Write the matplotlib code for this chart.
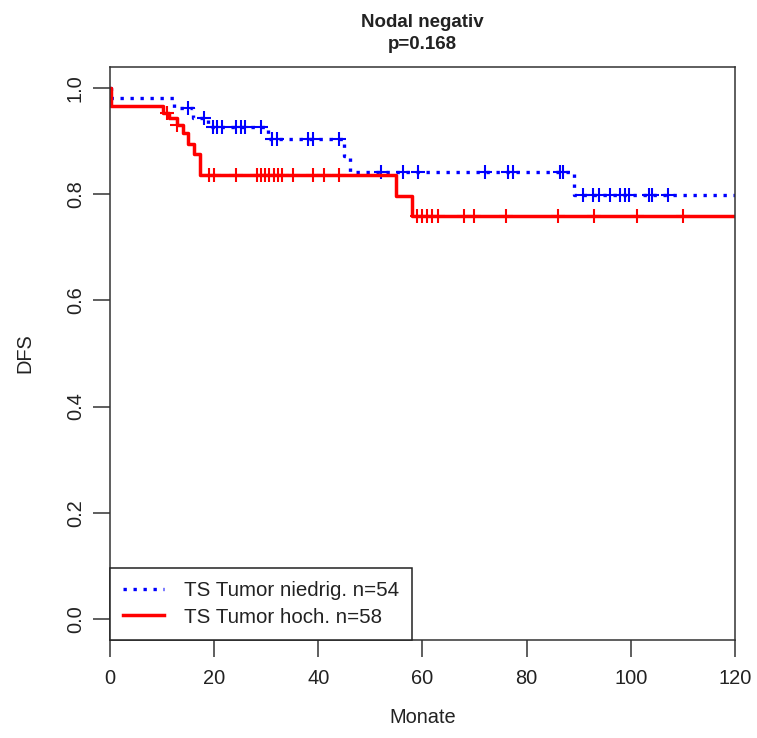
import matplotlib
matplotlib.use('Agg')
import matplotlib.pyplot as plt
import numpy as np

plt.rcParams['font.family'] = ['Liberation Sans', 'DejaVu Sans']

# Kaplan-Meier steps (time in months, DFS after the step)
niedrig_times = [0, 0.2, 12.2, 16.0, 18.9, 30.4, 45.0, 46.0, 89.0]
niedrig_surv = [1.0, 0.982, 0.963, 0.944, 0.926, 0.904, 0.872, 0.843, 0.799]
niedrig_censor = [15.0, 18.0, 19.8, 20.6, 21.5, 24.1, 25.1, 26.0, 28.9,
                  31.2, 32.1, 38.1, 39.0, 43.9, 52.0, 56.2, 59.2, 72.0,
                  76.5, 77.4, 86.4, 87.0, 90.9, 92.8, 93.8, 96.0, 97.9,
                  98.9, 99.7, 103.4, 104.0, 107.2]

hoch_times = [0, 0.2, 10.2, 11.3, 12.8, 14.1, 15.0, 16.2, 17.3, 55.0, 58.0]
hoch_surv = [1.0, 0.966, 0.954, 0.944, 0.931, 0.916, 0.895, 0.876, 0.836, 0.797, 0.759]
hoch_censor = [10.9, 12.9, 19.1, 20.0, 24.2, 28.2, 28.9, 29.8, 30.6, 31.4,
               32.3, 33.0, 35.1, 39.0, 41.1, 44.0, 59.0, 59.9, 60.9, 61.9,
               63.0, 68.0, 69.9, 76.0, 86.1, 92.9, 101.1, 110.1]

labels = ['TS Tumor niedrig. n=54', 'TS Tumor hoch. n=58']
t_max = 120


def surv_at(times, surv, t):
    idx = np.searchsorted(times, t, side='right') - 1
    return np.asarray(surv)[idx]


fig = plt.figure(figsize=(7.57, 7.38), dpi=100)
ax = fig.add_axes([0.1453, 0.1328, 0.8256, 0.7764])

fs = 14.4
tick_col = '#222222'

# blue dotted curve
bt = list(niedrig_times) + [t_max]
bs = list(niedrig_surv) + [niedrig_surv[-1]]
ax.step(bt, bs, where='post', color='#0000FF', lw=2.4,
        linestyle=(0, (1, 2.0)), dash_capstyle='butt', label=labels[0])
ax.plot(niedrig_censor, surv_at(niedrig_times, niedrig_surv, niedrig_censor),
        linestyle='none', marker='+', ms=10, mew=1.5, color='#0000FF')

# red solid curve
rt = list(hoch_times) + [t_max]
rs = list(hoch_surv) + [hoch_surv[-1]]
ax.step(rt, rs, where='post', color='#FF0000', lw=2.5, label=labels[1])
ax.plot(hoch_censor, surv_at(hoch_times, hoch_surv, hoch_censor),
        linestyle='none', marker='+', ms=10, mew=1.5, color='#FF0000')

ax.set_xlim(0, 120)
ax.set_ylim(-0.04, 1.04)
ax.set_xticks(np.arange(0, 121, 20))
ax.set_yticks(np.arange(0, 1.01, 0.2))
ax.set_yticklabels(['0.0', '0.2', '0.4', '0.6', '0.8', '1.0'])
ax.tick_params(axis='both', length=12, width=1.1, color='#333333',
               labelsize=fs, labelcolor=tick_col)
ax.tick_params(axis='x', pad=9)
ax.tick_params(axis='y', pad=6)
for lab in ax.get_yticklabels():
    lab.set_rotation(90)
    lab.set_va('center')
for sp in ax.spines.values():
    sp.set_linewidth(1.1)
    sp.set_color('#333333')

ax.set_xlabel('Monate', fontsize=fs, color=tick_col)
ax.xaxis.set_label_coords(0.5, -0.136)
ax.xaxis.label.set_va('center')
ax.set_ylabel('DFS', fontsize=fs, color=tick_col)
ax.yaxis.set_label_coords(-0.136, 0.5)
ax.yaxis.label.set_va('center')

ax.set_title('Nodal negativ\np=0.168', fontsize=13.5, fontweight='bold',
             linespacing=1.35, pad=13, color=tick_col)

leg = ax.legend(loc='lower left', bbox_to_anchor=(0, 0), borderaxespad=0,
                fontsize=14.8, handlelength=2.0, handletextpad=0.95,
                borderpad=0.65, labelspacing=0.35, fancybox=False,
                framealpha=1, edgecolor='#222222')
leg.get_frame().set_linewidth(1.1)
for txt in leg.get_texts():
    txt.set_color(tick_col)

fig.savefig('out.png', dpi=100)
